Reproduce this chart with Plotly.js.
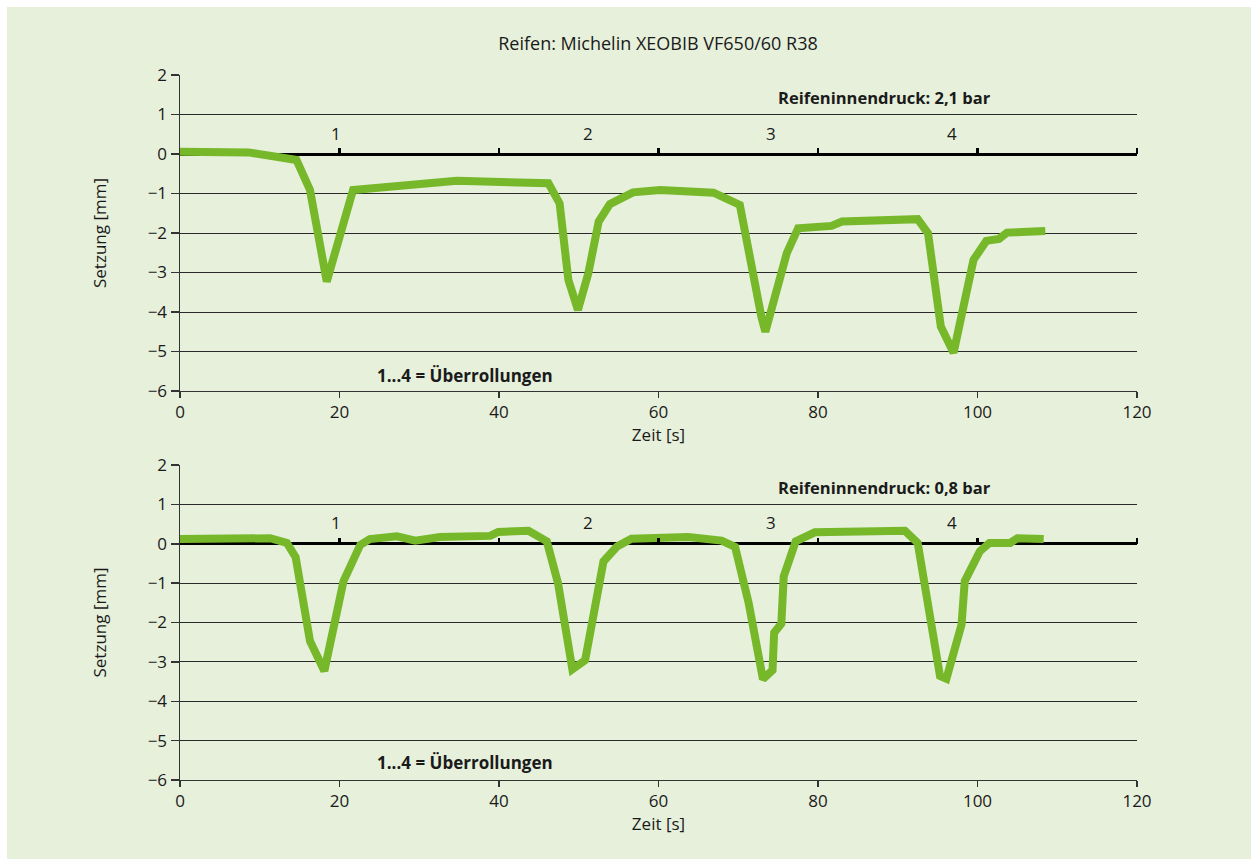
<!DOCTYPE html>
<html>
<head>
<meta charset="utf-8">
<script src="https://cdn.plot.ly/plotly-3.0.1.min.js"></script>
<style>
html,body{margin:0;padding:0;background:#ffffff;}
#chart{position:absolute;left:7px;top:7px;width:1244px;height:852px;}
</style>
</head>
<body>
<div id="chart"></div>
<script>
// Reifeninnendruck 2,1 bar
var timeHigh = [0, 8.6, 14.6, 16.3, 18.4, 21.7, 34.7, 40.1, 46.2, 47.6, 48.7, 49.9, 51.2, 52.5, 53.9, 56.8, 60.2, 66.9, 70.2, 72.9, 73.4, 76.1, 77.5, 81.7, 83.0, 92.5, 93.8, 95.4, 97.0, 99.5, 101.1, 102.7, 103.7, 108.5];
var settleHigh = [0.06, 0.04, -0.15, -0.91, -3.23, -0.91, -0.68, -0.70, -0.74, -1.25, -3.19, -3.95, -3.02, -1.71, -1.27, -0.97, -0.91, -0.98, -1.29, -4.12, -4.5, -2.5, -1.88, -1.82, -1.71, -1.65, -2.01, -4.37, -5.03, -2.68, -2.2, -2.15, -1.99, -1.95];
// Reifeninnendruck 0,8 bar
var timeLow = [0, 11.3, 13.4, 14.5, 16.3, 18.1, 20.5, 22.6, 23.8, 27.2, 29.5, 32.6, 38.9, 39.9, 43.7, 46.0, 47.4, 49.2, 50.8, 53.1, 54.8, 56.6, 63.7, 67.9, 69.6, 71.3, 73.1, 74.3, 74.5, 75.4, 75.7, 77.2, 79.6, 90.9, 92.5, 95.3, 96.1, 98.0, 98.4, 100.3, 101.5, 104.1, 105.0, 108.3];
var settleLow = [0.12, 0.14, 0.02, -0.34, -2.47, -3.23, -0.95, -0.03, 0.12, 0.19, 0.08, 0.17, 0.20, 0.30, 0.33, 0.06, -1.0, -3.19, -2.96, -0.45, -0.07, 0.13, 0.17, 0.08, -0.08, -1.5, -3.44, -3.21, -2.26, -2.03, -0.83, 0.06, 0.29, 0.33, 0.02, -3.36, -3.43, -2.05, -0.95, -0.19, 0.02, 0.02, 0.14, 0.12];
// Überrollungen labels
var passLabels = ['1', '2', '3', '4'];
var passX = [19.6, 51.2, 74.1, 96.8];
var passY = 0.53;
var pressureLabels = ['Reifeninnendruck: 2,1 bar', 'Reifeninnendruck: 0,8 bar'];
var noteText = '1...4 = Überrollungen';
var chartTitle = 'Reifen: Michelin XEOBIB VF650/60 R38';
var xTickVals = [0, 20, 40, 60, 80, 100, 120];
var zeroTickVals = [20, 40, 60, 80, 100, 120];
var yTickVals = [-6, -5, -4, -3, -2, -1, 0, 1, 2];

var FONT = 'Open Sans, Noto Sans, sans-serif';
var TXT = '#1a1a1a';
var GREEN = '#76b82a';
var BG = '#e6f0da';

var xd = [173/1244, 1130/1244];
var topDom = [1-384/852, 1-68/852];
var botDom = [1-773/852, 1-458/852];

function xAx(anchor) {
  return {
    domain: xd, range: [0, 120], anchor: anchor,
    tickvals: xTickVals, ticks: 'outside', ticklen: 6, tickwidth: 1.5, tickcolor: '#333',
    showline: true, linecolor: '#333', linewidth: 1,
    showgrid: false, zeroline: false,
    tickfont: {family: FONT, size: 17, color: TXT},
    title: {text: 'Zeit [s]', font: {family: FONT, size: 17, color: TXT}, standoff: 4},
    automargin: false, fixedrange: true
  };
}
function yAx(anchor, dom) {
  return {
    domain: dom, range: [-6, 2], anchor: anchor,
    tickvals: yTickVals, ticks: 'outside', ticklen: 8, tickwidth: 1.5, tickcolor: '#333',
    showline: true, linecolor: '#333', linewidth: 1.5,
    showgrid: true, gridcolor: '#2a2a2a', gridwidth: 1,
    zeroline: true, zerolinecolor: '#000', zerolinewidth: 3,
    tickfont: {family: FONT, size: 17, color: TXT},
    title: {text: 'Setzung [mm]', font: {family: FONT, size: 17, color: TXT}, standoff: 36},
    automargin: false, fixedrange: true
  };
}
function zeroAx(over, pos) {
  return {
    overlaying: over, anchor: 'free', position: pos, side: 'top',
    range: [0, 120], tickvals: zeroTickVals, ticks: 'outside', ticklen: 6, tickwidth: 2.5, tickcolor: '#000',
    showticklabels: false, showline: false, showgrid: false, zeroline: false, fixedrange: true
  };
}

var traces = [
  {x: timeHigh, y: settleHigh, xaxis: 'x', yaxis: 'y', mode: 'lines', line: {color: GREEN, width: 8}, hoverinfo: 'skip'},
  {x: timeLow, y: settleLow, xaxis: 'x2', yaxis: 'y2', mode: 'lines', line: {color: GREEN, width: 8}, hoverinfo: 'skip'}
];

var annotations = [];
[['x', 'y', 0], ['x2', 'y2', 1]].forEach(function (a) {
  passLabels.forEach(function (t, i) {
    annotations.push({xref: a[0], yref: a[1], x: passX[i], y: passY, text: t, showarrow: false,
      font: {family: FONT, size: 17, color: TXT}});
  });
  annotations.push({xref: a[0], yref: a[1], x: 101.9, y: 1.44, xanchor: 'right', text: '<b>' + pressureLabels[a[2]] + '</b>',
    showarrow: false, font: {family: FONT, size: 16.5, color: TXT}});
  annotations.push({xref: a[0], yref: a[1], x: 24.5, y: a[2] === 0 ? -5.6 : -5.56, xanchor: 'left', text: '<b>' + noteText + '</b>',
    showarrow: false, font: {family: FONT, size: 17, color: TXT}});
});

var layout = {
  width: 1244, height: 852,
  paper_bgcolor: BG, plot_bgcolor: BG,
  margin: {l: 0, r: 0, t: 0, b: 0},
  showlegend: false,
  title: {text: chartTitle, font: {family: FONT, size: 18, color: TXT}, x: 651/1244, xanchor: 'center', y: 1 - 37/852, yanchor: 'middle'},
  xaxis: xAx('y'),
  yaxis: yAx('x', topDom),
  xaxis2: xAx('y2'),
  yaxis2: yAx('x2', botDom),
  xaxis3: zeroAx('x', topDom[0] + 0.75 * (topDom[1] - topDom[0])),
  xaxis4: zeroAx('x2', botDom[0] + 0.75 * (botDom[1] - botDom[0])),
  annotations: annotations
};

// dummy traces to activate overlay axes
traces.push({x: [0], y: [null], xaxis: 'x3', yaxis: 'y', mode: 'lines', hoverinfo: 'skip'});
traces.push({x: [0], y: [null], xaxis: 'x4', yaxis: 'y2', mode: 'lines', hoverinfo: 'skip'});

Plotly.newPlot('chart', traces, layout, {displayModeBar: false, staticPlot: true});
</script>
</body>
</html>
